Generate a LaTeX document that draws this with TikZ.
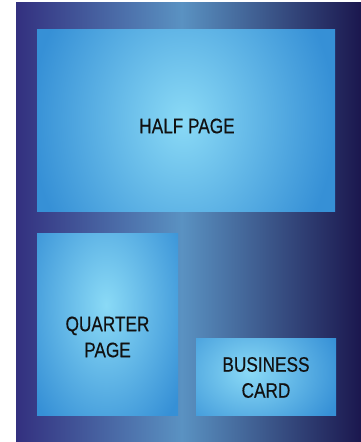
\documentclass[tikz,border=0pt]{standalone}
\usepackage{fontspec}
\setmainfont{Liberation Sans}
\newfontfamily\labfont[FakeBold=0.4]{Liberation Sans}
\definecolor{bgL}{HTML}{33307F}
\definecolor{bgM}{HTML}{5A92C2}
\definecolor{bgR}{HTML}{1B174E}
\definecolor{boxIn}{HTML}{8ADAF6}
\definecolor{boxOut}{HTML}{3690D6}
\definecolor{ink}{HTML}{111111}
\pgfdeclarehorizontalshading{bgshade}{100bp}{color(0bp)=(bgL); color(25bp)=(bgL); color(49bp)=(bgM); color(75bp)=(bgR); color(100bp)=(bgR)}
\pgfdeclareradialshading{boxglow}{\pgfpointorigin}{color(0bp)=(boxIn); color(25bp)=(boxOut); color(50bp)=(boxOut)}
\tikzset{
  adbox/.style={rectangle, inner sep=0pt, outer sep=0pt, anchor=north west},
  adlabel/.style={align=center, text=ink, inner sep=0pt, font=\labfont\fontsize{21}{26}\selectfont}
}
\newcommand{\cnd}[1]{\scalebox{0.82}[1]{#1}}
\newcommand{\glowbox}[5]{%
  \begin{scope}
    \clip (#1.north west) rectangle (#1.south east);
    \shade[shading=boxglow] (#2-#4,#3-#5) rectangle (#2+#4,#3+#5);
  \end{scope}}
\begin{document}
\begin{tikzpicture}[x=1pt,y=-1pt]
\useasboundingbox (0,0) rectangle (361,442);
\shade[shading=bgshade] (16,2) rectangle (361,442);
\node[adbox, minimum width=299pt, minimum height=182pt] (half) at (37,29) {};
\node[adbox, minimum width=141pt, minimum height=182pt] (quarter) at (37,233) {};
\node[adbox, minimum width=140pt, minimum height=77pt] (card) at (196,338) {};
\glowbox{half}{183}{120}{152}{185}
\glowbox{quarter}{106}{305}{92}{150}
\glowbox{card}{250}{372}{95}{75}
\node[adlabel] (halft) at (187,126) {\cnd{HALF PAGE}};
\node[adlabel] (quartert) at (107.5,337) {\cnd{QUARTER}\\\cnd{PAGE}};
\node[adlabel] (cardt) at (266,377.5) {\cnd{BUSINESS}\\\cnd{CARD}};
\end{tikzpicture}
\end{document}
